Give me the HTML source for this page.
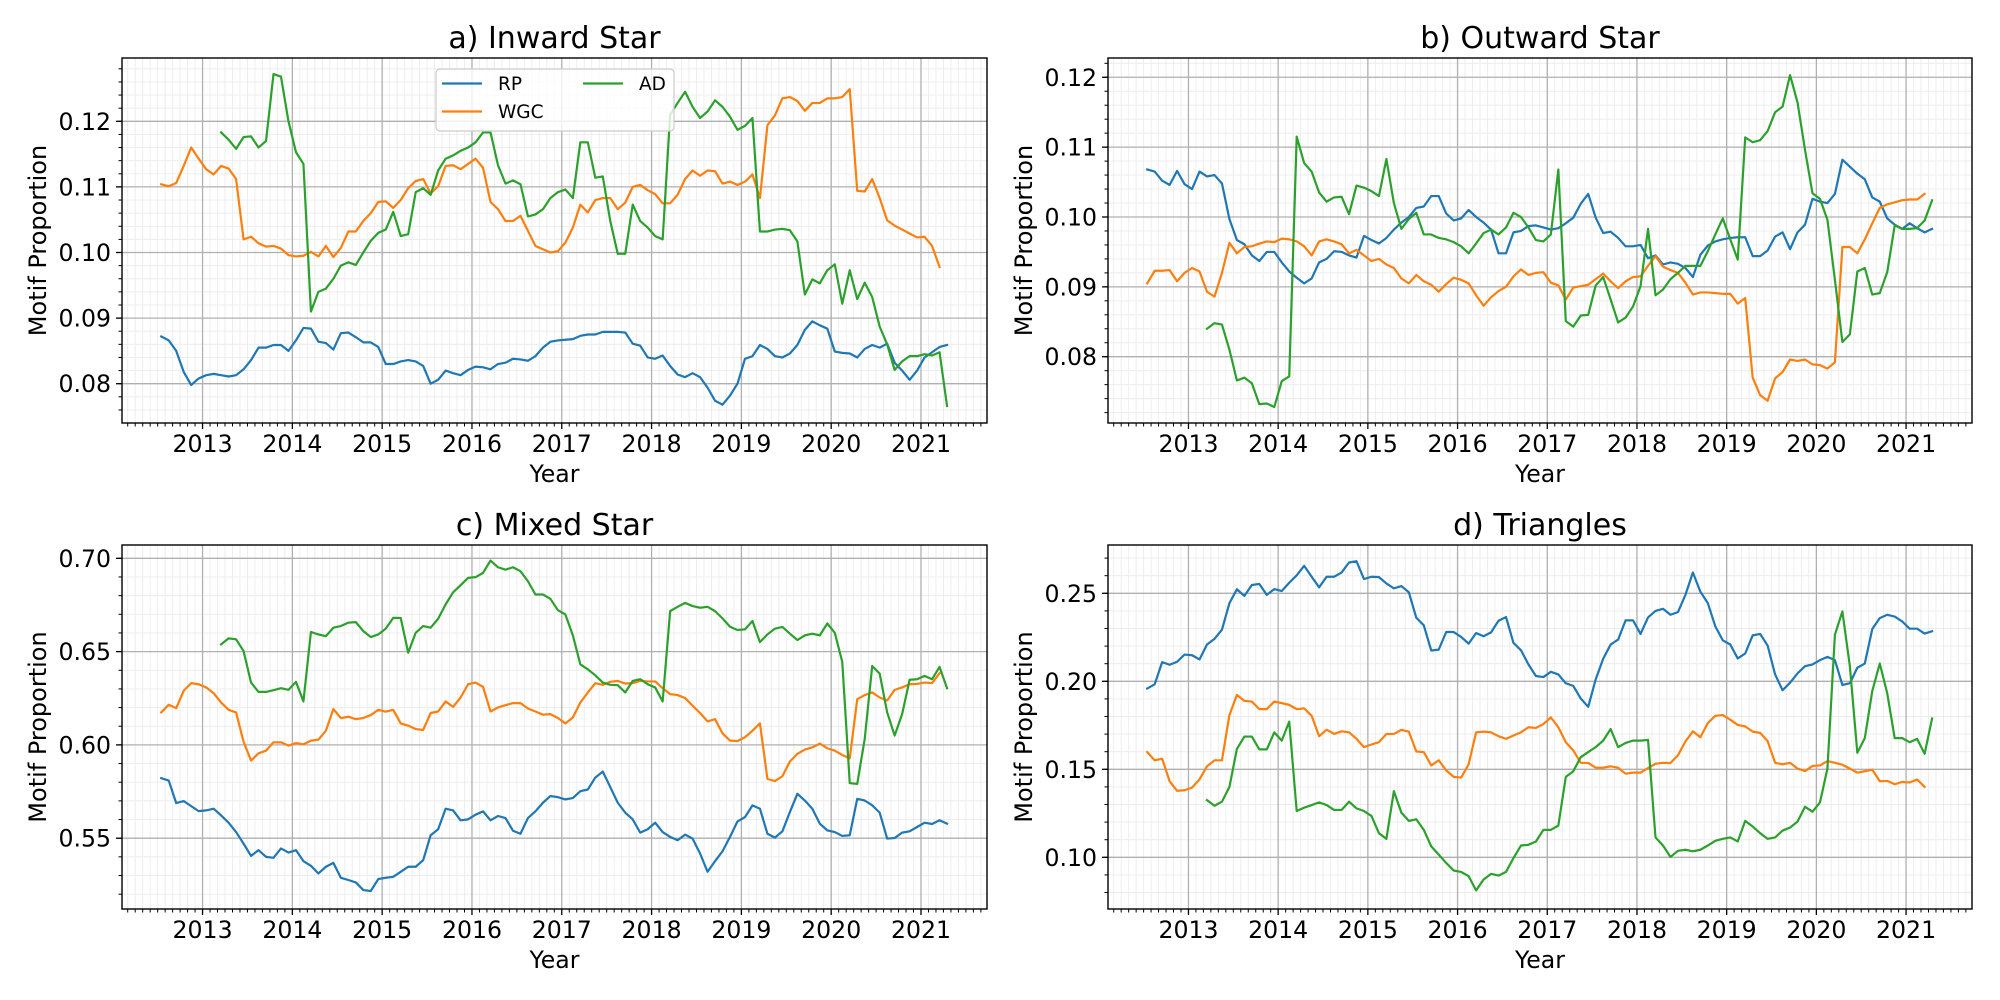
<!DOCTYPE html>
<html><head><meta charset="utf-8"><title>Motif Proportion</title>
<style>
html,body{margin:0;padding:0;background:#fff;}
svg{display:block;font-family:"DejaVu Sans","Liberation Sans",sans-serif;}
</style></head>
<body>
<svg id="chart" width="2000" height="1000" viewBox="0 0 2000 1000" xmlns="http://www.w3.org/2000/svg"></svg>
<script>
// ---------- data (monthly, Jul 2012 .. Apr 2021) ----------
const xTickLabels = ['2013','2014','2015','2016','2017','2018','2019','2020','2021'];
const seriesNames = ['RP','WGC','AD'];
const N = null;

const aRP = [.0872,.0866,.0850,.0818,.0798,.0808,
.0813,.0815,.0813,.0811,.0813,.0822,.0836,.0855,.0855,.0859,.0859,.0850,
.0866,.0885,.0884,.0864,.0862,.0852,.0877,.0878,.0871,.0863,.0863,.0856,
.0830,.0830,.0834,.0836,.0834,.0827,.0800,.0806,.0820,.0816,.0813,.0821,
.0826,.0825,.0822,.0830,.0832,.0838,.0837,.0835,.0842,.0855,.0864,.0866,
.0867,.0868,.0873,.0875,.0875,.0879,.0879,.0879,.0878,.0861,.0858,.0840,
.0838,.0843,.0827,.0814,.0810,.0816,.0810,.0794,.0774,.0768,.0782,.0800,
.0838,.0842,.0859,.0853,.0842,.0840,.0846,.0859,.0882,.0895,.0889,.0884,
.0849,.0847,.0846,.0840,.0853,.0859,.0855,.0861,.0832,.0820,.0806,.0820,
.0840,.0848,.0856,.0859];
const aWGC = [.1104,.1101,.1106,.1132,.1160,.1143,
.1127,.1119,.1132,.1128,.1112,.1020,.1024,.1014,.1009,.1010,.1006,.0996,
.0994,.0995,.1001,.0994,.1010,.0993,.1007,.1032,.1032,.1048,.1060,.1077,
.1078,.1068,.1080,.1098,.1109,.1112,.1090,.1101,.1132,.1133,.1127,.1135,
.1143,.1129,.1077,.1066,.1048,.1048,.1056,.1033,.1010,.1005,.1000,.1002,
.1015,.1038,.1073,.1061,.1080,.1083,.1083,.1066,.1076,.1100,.1103,.1095,
.1089,.1075,.1075,.1088,.1112,.1125,.1117,.1125,.1124,.1105,.1108,.1103,
.1108,.1119,.1083,.1194,.1209,.1235,.1237,.1231,.1216,.1228,.1228,.1235,
.1235,.1237,.1249,.1094,.1093,.1112,.1083,.1049,.1041,.1035,.1029,.1023,
.1024,.1010,.0978,N];
const aAD = [N,N,N,N,N,N,
N,N,.1183,.1172,.1158,.1176,.1177,.1160,.1170,.1272,.1268,.1200,
.1153,.1135,.0910,.0940,.0945,.0960,.0980,.0985,.0981,.1000,.1018,.1030,
.1035,.1062,.1025,.1028,.1092,.1098,.1088,.1125,.1143,.1148,.1155,.1160,
.1168,.1183,.1183,.1133,.1105,.1110,.1104,.1055,.1058,.1066,.1083,.1092,
.1096,.1083,.1168,.1168,.1114,.1116,.1048,.0998,.0998,.1073,.1048,.1038,
.1025,.1020,.1210,.1228,.1245,.1222,.1205,.1215,.1232,.1222,.1207,.1187,
.1193,.1205,.1032,.1032,.1035,.1036,.1034,.1017,.0936,.0959,.0953,.0973,
.0982,.0922,.0973,.0929,.0954,.0932,.0887,.0860,.0821,.0834,.0842,.0842,
.0845,.0843,.0848,.0766];

const bRP = [.1068,.1065,.1052,.1046,.1066,.1047,
.1040,.1065,.1058,.1060,.1048,.0997,.0967,.0961,.0945,.0937,.0950,.0950,
.0935,.0922,.0913,.0905,.0912,.0935,.0940,.0951,.0950,.0945,.0942,.0973,
.0967,.0962,.0970,.0982,.0992,.1000,.1013,.1015,.1030,.1030,.1005,.0995,
.0998,.1010,.1000,.0992,.0982,.0948,.0948,.0978,.0980,.0987,.0988,.0985,
.0982,.0984,.0991,.0999,.1019,.1033,.0999,.0977,.0979,.0970,.0958,.0958,
.0960,.0941,.0945,.0932,.0935,.0933,.0927,.0914,.0946,.0959,.0965,.0968,
.0970,.0971,.0971,.0944,.0944,.0952,.0972,.0978,.0954,.0978,.0989,.1026,
.1022,.1020,.1033,.1082,.1072,.1062,.1054,.1028,.1022,.0998,.0989,.0983,
.0991,.0984,.0978,.0983];
const bWGC = [.0905,.0923,.0923,.0924,.0908,.0920,
.0927,.0922,.0893,.0886,.0920,.0963,.0948,.0957,.0958,.0962,.0965,.0964,
.0969,.0968,.0965,.0958,.0945,.0965,.0968,.0965,.0961,.0948,.0953,.0945,
.0937,.0940,.0932,.0927,.0912,.0905,.0917,.0908,.0903,.0893,.0904,.0913,
.0910,.0905,.0888,.0873,.0885,.0894,.0900,.0915,.0925,.0917,.0920,.0921,
.0906,.0902,.0882,.0899,.0901,.0903,.0911,.0919,.0908,.0898,.0908,.0914,
.0915,.0930,.0944,.0929,.0924,.0920,.0906,.0889,.0892,.0892,.0891,.0890,
.0890,.0876,.0884,.0770,.0745,.0737,.0769,.0778,.0796,.0794,.0796,.0789,
.0788,.0783,.0792,.0957,.0957,.0948,.0968,.0991,.1013,.1018,.1021,.1024,
.1025,.1025,.1033,N];
const bAD = [N,N,N,N,N,N,
N,N,.0840,.0848,.0846,.0810,.0766,.0770,.0762,.0732,.0733,.0728,
.0765,.0772,.1115,.1077,.1065,.1035,.1022,.1028,.1029,.1004,.1045,.1042,
.1037,.1030,.1083,.1020,.0983,.0997,.1006,.0975,.0975,.0970,.0968,.0964,
.0958,.0948,.0962,.0977,.0982,.0975,.0985,.1006,.1000,.0985,.0967,.0965,
.0975,.1068,.0851,.0843,.0859,.0860,.0902,.0914,.0882,.0849,.0856,.0872,
.0901,.0983,.0888,.0896,.0911,.0920,.0930,.0930,.0930,.0951,.0975,.0998,
.0968,.0939,.1114,.1107,.1110,.1123,.1150,.1158,.1203,.1164,.1096,.1034,
.1026,.0996,.0910,.0821,.0832,.0922,.0927,.0889,.0891,.0921,.0988,.0983,
.0983,.0984,.0995,.1024];

const cRP = [.5822,.5809,.5688,.5699,.5672,.5645,.5649,.5658,.5622,.5583,
.5533,.5471,.5405,.5436,.5400,.5395,.5445,.5423,.5436,.5377,
.5352,.5311,.5347,.5368,.5288,.5276,.5263,.5222,.5217,.5281,
.5288,.5293,.5320,.5347,.5347,.5382,.5516,.5548,.5658,.5649,
.5596,.5601,.5626,.5644,.5596,.5619,.5608,.5540,.5524,.5608,
.5644,.5690,.5726,.5720,.5708,.5715,.5752,.5761,.5825,.5857,
.5774,.5690,.5637,.5601,.5530,.5548,.5583,.5533,.5507,.5489,
.5519,.5498,.5418,.5320,.5377,.5430,.5507,.5590,.5613,.5676,
.5658,.5524,.5503,.5537,.5640,.5738,.5702,.5658,.5578,.5542,
.5533,.5512,.5516,.5711,.5702,.5676,.5637,.5498,.5501,.5530,
.5537,.5560,.5583,.5576,.5596,.5578];
const cWGC = [.6174,.6215,.6197,.6290,.6331,.6325,.6308,.6277,.6227,.6188,
.6174,.6017,.5916,.5955,.5969,.6014,.6014,.5996,.6010,.6003,
.6023,.6028,.6076,.6192,.6144,.6151,.6138,.6144,.6160,.6188,
.6178,.6188,.6115,.6103,.6085,.6080,.6171,.6179,.6233,.6204,
.6254,.6325,.6334,.6311,.6179,.6201,.6213,.6224,.6224,.6195,
.6179,.6162,.6165,.6144,.6115,.6147,.6227,.6281,.6331,.6322,
.6338,.6343,.6329,.6331,.6343,.6340,.6340,.6304,.6272,.6267,
.6251,.6210,.6171,.6126,.6138,.6062,.6023,.6021,.6041,.6076,
.6115,.5818,.5806,.5832,.5911,.5952,.5975,.5987,.6007,.5982,
.5969,.5946,.5928,.6245,.6267,.6281,.6254,.6238,.6295,.6308,
.6325,.6327,.6334,.6331,.6384,N];
const cAD = [N,N,N,N,N,N,N,N,
.6539,.6571,.6566,.6503,.6334,.6284,.6284,.6293,.6304,.6295,
.6338,.6233,.6605,.6592,.6583,.6628,.6637,.6655,.6658,.6610,
.6578,.6592,.6623,.6681,.6680,.6494,.6601,.6637,.6628,.6676,
.6753,.6818,.6856,.6895,.6899,.6922,.6988,.6952,.6939,.6952,
.6931,.6877,.6806,.6806,.6783,.6722,.6699,.6587,.6432,.6405,
.6373,.6334,.6322,.6320,.6281,.6343,.6352,.6325,.6308,.6233,
.6717,.6740,.6761,.6744,.6735,.6740,.6717,.6678,.6633,.6616,
.6619,.6664,.6551,.6592,.6623,.6632,.6596,.6562,.6587,.6596,
.6587,.6651,.6601,.6445,.5795,.5791,.6032,.6423,.6382,.6174,
.6050,.6165,.6349,.6352,.6370,.6352,.6418,.6304];

const dRP = [.1959,.1983,.2109,.2094,.2111,.2152,.2148,.2124,.2209,.2241,
.2293,.2444,.2523,.2485,.2547,.2553,.2491,.2524,.2513,.2560,
.2602,.2656,.2594,.2534,.2594,.2594,.2618,.2675,.2682,.2581,
.2594,.2592,.2556,.2528,.2541,.2506,.2361,.2318,.2175,.2180,
.2280,.2280,.2252,.2214,.2274,.2256,.2278,.2344,.2365,.2218,
.2177,.2096,.2030,.2024,.2054,.2039,.1989,.1974,.1902,.1855,
.2011,.2128,.2209,.2237,.2346,.2346,.2269,.2363,.2400,.2412,
.2378,.2393,.2491,.2618,.2509,.2444,.2312,.2233,.2209,.2130,
.2158,.2261,.2269,.2203,.2039,.1949,.1992,.2045,.2086,.2096,
.2120,.2139,.2120,.1979,.1989,.2077,.2101,.2297,.2359,.2378,
.2368,.2340,.2299,.2299,.2271,.2284];
const dWGC = [.1598,.1551,.1560,.1432,.1378,.1381,.1396,.1443,.1517,.1551,
.1551,.1808,.1923,.1889,.1885,.1842,.1842,.1885,.1876,.1866,
.1842,.1846,.1804,.1688,.1725,.1701,.1716,.1710,.1673,.1626,
.1641,.1654,.1701,.1701,.1724,.1714,.1601,.1598,.1522,.1551,
.1494,.1457,.1453,.1528,.1710,.1714,.1710,.1688,.1673,.1692,
.1710,.1739,.1735,.1757,.1795,.1739,.1654,.1607,.1537,.1536,
.1509,.1509,.1517,.1509,.1475,.1481,.1481,.1507,.1532,.1537,
.1536,.1579,.1658,.1716,.1682,.1763,.1804,.1808,.1782,.1752,
.1744,.1714,.1707,.1660,.1537,.1528,.1537,.1504,.1490,.1519,
.1522,.1547,.1537,.1526,.1504,.1481,.1489,.1498,.1432,.1434,
.1415,.1428,.1425,.1442,.1400,N];
const dAD = [N,N,N,N,N,N,N,N,
.1325,.1293,.1316,.1400,.1616,.1686,.1686,.1613,.1613,.1710,
.1663,.1771,.1263,.1282,.1297,.1312,.1297,.1269,.1269,.1316,
.1278,.1263,.1235,.1137,.1105,.1376,.1254,.1207,.1216,.1156,
.1062,.1015,.0968,.0925,.0917,.0893,.0812,.0874,.0906,.0896,
.0917,.0996,.1067,.1071,.1090,.1156,.1156,.1180,.1457,.1489,
.1569,.1598,.1626,.1663,.1729,.1626,.1650,.1663,.1663,.1667,
.1113,.1067,.1002,.1037,.1043,.1034,.1043,.1067,.1094,.1105,
.1113,.1090,.1207,.1175,.1137,.1105,.1113,.1152,.1169,.1203,
.1287,.1259,.1312,.1504,.2265,.2397,.2086,.1594,.1677,.1945,
.2101,.1932,.1677,.1677,.1654,.1673,.1588,.1789];

const yTicksA = ['0.08','0.09','0.10','0.11','0.12'];
const yTicksB = ['0.08','0.09','0.10','0.11','0.12'];
const yTicksC = ['0.55','0.60','0.65','0.70'];
const yTicksD = ['0.10','0.15','0.20','0.25'];

// ---------- rendering ----------
const NS = 'http://www.w3.org/2000/svg';
const svg = document.getElementById('chart');
const COLORS = ['#1f77b4','#ff7f0e','#2ca02c'];
const X0 = 2012.103, X1 = 2021.735;
function mk(tag, attrs, parent){
  const e = document.createElementNS(NS, tag);
  for (const k in attrs) e.setAttribute(k, attrs[k]);
  (parent||svg).appendChild(e);
  return e;
}
function monthYear(i){ return 2012.54 + i/12; }

function drawPanel(p){
  const g = mk('g', {});
  
  
  const W = p.right - p.left, H = p.bottom - p.top;
  const xs = v => p.left + (v - X0) / (X1 - X0) * W;
  const ys = v => p.bottom - (v - p.ymin) / (p.ymax - p.ymin) * H;
  const grid = mk('g', {}, g);
  
  
  // minor x grid (monthly)
  for (let y = 2012; y <= 2021; y++) for (let m = 1; m < 12; m++){
    const v = y + m/12; if (v < X0 || v > X1) continue;
    mk('line', {x1:xs(v), x2:xs(v), y1:p.top, y2:p.bottom, stroke:'#ececec', 'stroke-width':0.9}, grid);
  }
  // minor y grid
  const ms = p.minor;
  for (let k = Math.ceil(p.ymin/ms); k*ms <= p.ymax; k++){
    const v = k*ms;
    mk('line', {x1:p.left, x2:p.right, y1:ys(v), y2:ys(v), stroke:'#ececec', 'stroke-width':0.9}, grid);
  }
  // major grid
  xTickLabels.forEach(t => { const v = +t; mk('line', {x1:xs(v), x2:xs(v), y1:p.top, y2:p.bottom, stroke:'#b0b0b0', 'stroke-width':1.3}, grid); });
  p.yTicks.forEach(t => { const v = +t; mk('line', {x1:p.left, x2:p.right, y1:ys(v), y2:ys(v), stroke:'#b0b0b0', 'stroke-width':1.3}, grid); });

  // series
  p.series.forEach((arr, si) => {
    let d = '', pen = false;
    arr.forEach((v, i) => {
      if (v === null){ pen = false; return; }
      d += (pen ? 'L' : 'M') + xs(monthYear(i)).toFixed(2) + ',' + ys(v).toFixed(2);
      pen = true;
    });
    const path = mk('path', {d:d, fill:'none', stroke:COLORS[si], 'stroke-width':2.2, 'stroke-linejoin':'round', 'stroke-linecap':'square'}, g);
    
    
  });

  // frame
  const frame = mk('rect', {x:p.left, y:p.top, width:W, height:H, fill:'none', stroke:'#000', 'stroke-width':1.4}, g);
  
  

  // x ticks
  const xa = mk('g', {}, g);
  
  
  for (let y = 2012; y <= 2021; y++) for (let m = 1; m < 12; m++){
    const v = y + m/12; if (v < X0 || v > X1) continue;
    mk('line', {x1:xs(v), x2:xs(v), y1:p.bottom, y2:p.bottom+3.5, stroke:'#000', 'stroke-width':1}, xa);
  }
  xTickLabels.forEach(t => {
    const v = +t;
    mk('line', {x1:xs(v), x2:xs(v), y1:p.bottom, y2:p.bottom+6, stroke:'#000', 'stroke-width':1.3}, xa);
    const tx = mk('text', {x:xs(v), y:p.bottom+29, 'text-anchor':'middle', 'font-size':'23.6px', fill:'#000'}, xa);
    tx.textContent = t;
    
    
  });
  const xl = mk('text', {x:(p.left+p.right)/2, y:p.bottom+59, 'text-anchor':'middle', 'font-size':'23.6px', fill:'#000'}, xa);
  xl.textContent = 'Year';
  
  

  // y ticks
  const ya = mk('g', {}, g);
  
  
  for (let k = Math.ceil(p.ymin/ms); k*ms <= p.ymax; k++){
    const v = k*ms;
    mk('line', {x1:p.left-3.5, x2:p.left, y1:ys(v), y2:ys(v), stroke:'#000', 'stroke-width':1}, ya);
  }
  p.yTicks.forEach(t => {
    const v = +t;
    mk('line', {x1:p.left-6, x2:p.left, y1:ys(v), y2:ys(v), stroke:'#000', 'stroke-width':1.3}, ya);
    const tx = mk('text', {x:p.left-11, y:ys(v)+8.5, 'text-anchor':'end', 'font-size':'23.6px', fill:'#000'}, ya);
    tx.textContent = t;
    
    
  });
  const cy = (p.top+p.bottom)/2;
  const yl = mk('text', {x:p.ylabelX, y:cy, 'text-anchor':'middle', 'dominant-baseline':'central', 'font-size':'24px', fill:'#000', transform:'rotate(-90 '+p.ylabelX+' '+cy+')'}, ya);
  yl.textContent = 'Motif Proportion';
  
  

  // title
  const tt = mk('text', {x:(p.left+p.right)/2, y:p.top-10, 'text-anchor':'middle', 'font-size':'30px', fill:'#000'}, g);
  tt.textContent = p.title;
  
  
}

drawPanel({id:'inward-star', title:'a) Inward Star', left:122, right:987, top:58, bottom:423, ymin:0.07401, ymax:0.12965, minor:0.002, yTicks:yTicksA, ylabelX:38, series:[aRP,aWGC,aAD]});
drawPanel({id:'outward-star', title:'b) Outward Star', left:1108, right:1972, top:58, bottom:423, ymin:0.07051, ymax:0.12276, minor:0.002, yTicks:yTicksB, ylabelX:1024, series:[bRP,bWGC,bAD]});
drawPanel({id:'mixed-star', title:'c) Mixed Star', left:122, right:987, top:545, bottom:909, ymin:0.51206, ymax:0.70713, minor:0.01, yTicks:yTicksC, ylabelX:38, series:[cRP,cWGC,cAD]});
drawPanel({id:'triangles', title:'d) Triangles', left:1108, right:1972, top:545, bottom:909, ymin:0.07063, ymax:0.27744, minor:0.01, yTicks:yTicksD, ylabelX:1024, series:[dRP,dWGC,dAD]});

// legend (panel a)
const lg = mk('g', {});


mk('rect', {x:436, y:69, width:238, height:62, rx:4, fill:'#fff', 'fill-opacity':0.8, stroke:'#cccccc', 'stroke-width':1.2}, lg);
const legendPos = [[442,83.5],[442,111.5],[583,83.5]];
seriesNames.forEach((nm, i) => {
  const ent = mk('g', {}, lg);
  
  
  const [lx, ly] = legendPos[i];
  mk('line', {x1:lx, x2:lx+40, y1:ly, y2:ly, stroke:COLORS[i], 'stroke-width':2.2}, ent);
  const t = mk('text', {x:lx+56, y:ly+6.5, 'font-size':'18.5px', fill:'#000'}, ent);
  t.textContent = nm;
});
</script>
</body></html>
